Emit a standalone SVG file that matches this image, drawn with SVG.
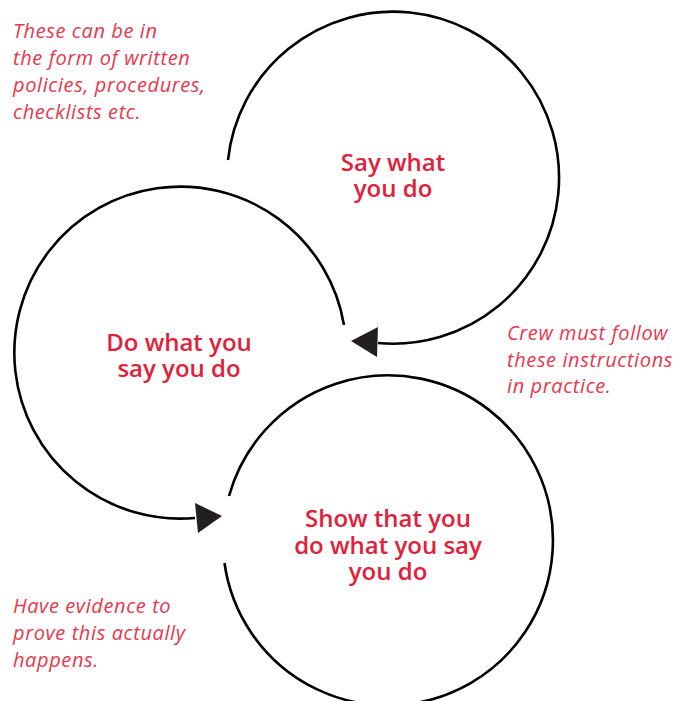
<svg xmlns="http://www.w3.org/2000/svg" width="677" height="701" viewBox="0 0 677 701">
<style>
.arc{fill:none;stroke:#000;stroke-width:2.6}
.head{fill:#231f20}
.title{font-family:"Open Sans","Liberation Sans",sans-serif;font-weight:600;font-size:24px;fill:#e1203a;text-anchor:middle}
.note{font-family:"Open Sans","Liberation Sans",sans-serif;font-style:italic;font-weight:400;font-size:20px;letter-spacing:0.6px;fill:#e8374e}
</style>
<rect width="677" height="701" fill="#fff"/>
<g id="connectors">
<path class="arc" d="M228 160 A166 166 0 1 1 378 343"/>
<polygon class="head" points="351,341 378,327 377,357"/>
<path class="arc" d="M344 325 A166 166 0 1 0 195 518"/>
<polygon class="head" points="222,516 195,503 198,533"/>
<path class="arc" d="M229 496 A165 165 0 1 1 224.5 563"/>
</g>
<g id="node-say">
<text class="title" x="393" y="171">Say what<tspan x="393" dy="26">you do</tspan></text>
</g>
<g id="node-do">
<text class="title" x="179" y="351">Do what you<tspan x="179" dy="26">say you do</tspan></text>
</g>
<g id="node-show">
<text class="title" x="388" y="527">Show that you<tspan x="388" dy="26.5">do what you say</tspan><tspan x="388" dy="26.5">you do</tspan></text>
</g>
<g id="note-say">
<text class="note" x="13" y="38">These can be in<tspan x="13" dy="27">the form of written</tspan><tspan x="13" dy="27">policies, procedures,</tspan><tspan x="13" dy="27">checklists etc.</tspan></text>
</g>
<g id="note-do">
<text class="note" x="507" y="340">Crew must follow<tspan x="507" dy="26.5">these instructions</tspan><tspan x="507" dy="26.5">in practice.</tspan></text>
</g>
<g id="note-show">
<text class="note" x="13" y="613">Have evidence to<tspan x="13" dy="27">prove this actually</tspan><tspan x="13" dy="27">happens.</tspan></text>
</g>
</svg>
